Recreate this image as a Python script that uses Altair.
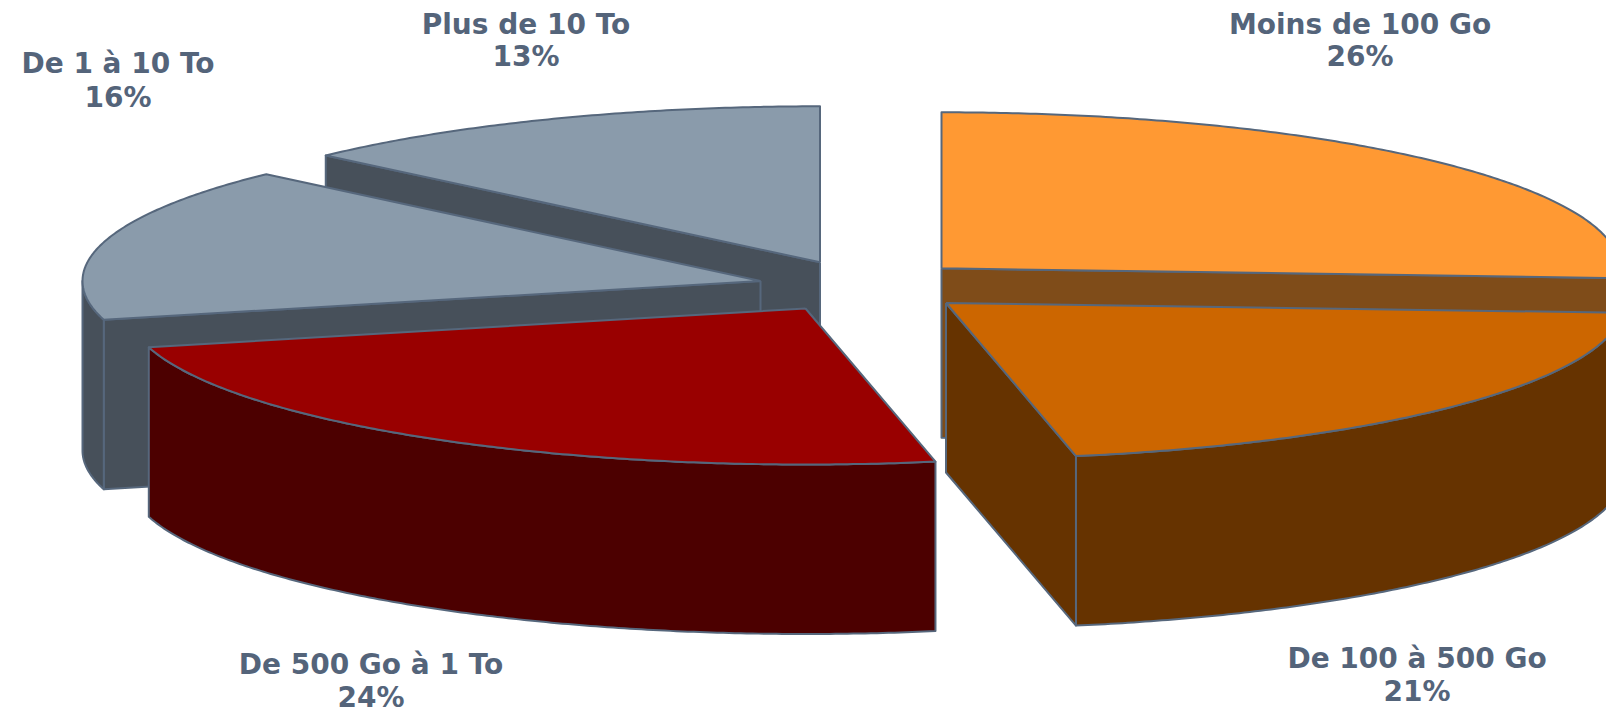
import math
import altair as alt
import pandas as pd

slice_names = ["Moins de 100 Go", "De 100 à 500 Go", "De 500 Go à 1 To", "De 1 à 10 To", "Plus de 10 To"]
slice_pcts = [26.0, 20.93, 24.07, 16.0, 13.0]
pct_labels = ["26%", "21%", "24%", "16%", "13%"]
top_colors = ["#FF9933", "#CC6600", "#990000", "#8A9BAB", "#8A9BAB"]
side_colors = ["#7F4C19", "#663300", "#4C0000", "#47505A", "#47505A"]
apex_x = [941.5, 946, 805.5, 760.5, 820]
apex_y = [268.3, 303, 308.5, 281, 262.3]
label_x = [1360, 1417, 371, 118, 526]
label_y1 = [25.7, 660, 666, 65, 25.7]
label_y2 = [57.5, 693, 698.5, 99, 57.5]

OUT = "#56677C"
TXT = "#54647A"
RX, RY, DEPTH = 678, 156, 169.5
W, H = 1598, 705
FONT = "DejaVu Sans"

xs = alt.Scale(domain=[8, 8 + W], range=[0, W], zero=False, nice=False)
ys = alt.Scale(domain=[8 + H, 8], range=[H, 0], zero=False, nice=False)

starts = []
c = 0
for p in slice_pcts:
    starts.append(c)
    c += p * 3.6


def pt(i, deg, drop=0.0):
    a = math.radians(deg)
    return (apex_x[i] + RX * math.sin(a), apex_y[i] - RY * math.cos(a) + drop)


def arc(i, a0, a1, drop=0.0):
    n = max(2, int(abs(a1 - a0) * 2))
    return [pt(i, a0 + (a1 - a0) * k / n, drop) for k in range(n + 1)]


def poly(points, fill):
    pts = list(points) + [points[0]]
    df = pd.DataFrame({"x": [p[0] for p in pts], "y": [p[1] for p in pts], "i": range(len(pts))})
    return (
        alt.Chart(df)
        .mark_line(fill=fill, stroke=OUT, strokeWidth=2, strokeJoin="round", clip=True)
        .encode(
            x=alt.X("x:Q", scale=xs, axis=None),
            y=alt.Y("y:Q", scale=ys, axis=None),
            order=alt.Order("i:Q"),
        )
    )


def radial_face(i, deg):
    ax, ay = apex_x[i], apex_y[i]
    px, py = pt(i, deg)
    return poly([(ax, ay), (px, py), (px, py + DEPTH), (ax, ay + DEPTH)], side_colors[i])


def outer_face(i, a0, a1):
    return poly(arc(i, a0, a1) + arc(i, a1, a0, DEPTH), side_colors[i])


def top_face(i):
    a0 = starts[i]
    a1 = a0 + slice_pcts[i] * 3.6
    return poly([(apex_x[i], apex_y[i])] + arc(i, a0, a1), top_colors[i])


layers = []
# Plus de 10 To
layers += [radial_face(4, starts[4]), top_face(4)]
# De 1 a 10 To
layers += [radial_face(3, starts[3]), outer_face(3, starts[3], 270), top_face(3)]
# Moins de 100 Go
layers += [radial_face(0, starts[1]), top_face(0)]
# De 500 Go a 1 To
layers += [outer_face(2, starts[2], starts[3]), top_face(2)]
# De 100 a 500 Go
layers += [radial_face(1, starts[2]), outer_face(1, starts[1], starts[2]), top_face(1)]

rows = []
for n, p, lx, y1, y2 in zip(slice_names, pct_labels, label_x, label_y1, label_y2):
    rows.append({"t": n, "x": lx, "y": y1})
    rows.append({"t": p, "x": lx, "y": y2})
labels = (
    alt.Chart(pd.DataFrame(rows))
    .mark_text(font=FONT, fontWeight="bold", fontSize=28, color=TXT, align="center", baseline="middle")
    .encode(
        x=alt.X("x:Q", scale=xs, axis=None),
        y=alt.Y("y:Q", scale=ys, axis=None),
        text="t:N",
    )
)

chart = (
    alt.layer(*layers, labels)
    .properties(width=W, height=H, padding=0, background="white",
                autosize=alt.AutoSizeParams(type="none"))
    .configure_view(stroke=None)
)
chart.save("out.html", embed_options={"renderer": "svg", "actions": False})
